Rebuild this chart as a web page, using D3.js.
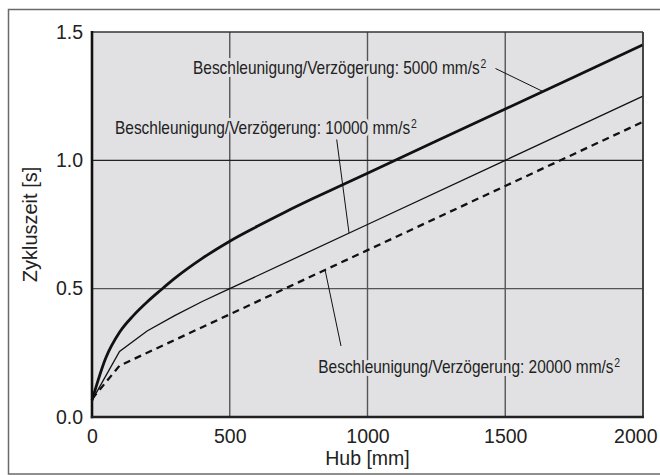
<!DOCTYPE html>
<html><head><meta charset="utf-8">
<script src="https://cdn.jsdelivr.net/npm/d3@7"></script>
<style>
html,body{margin:0;padding:0;background:#fff;}
svg{display:block;font-family:"Liberation Sans",Arial,Helvetica,sans-serif;}
</style></head>
<body><svg id="c" width="660" height="475"></svg>
<script>
// ---- data ----
const xTicks = [0, 500, 1000, 1500, 2000];
const yTicks = [0.0, 0.5, 1.0, 1.5];
const xTitle = "Hub [mm]";
const yTitle = "Zykluszeit [s]";

const hub5000 = [0, 50, 100, 150, 200, 250, 300, 400, 500, 600, 700, 800, 900, 1000, 1500, 2000];
const zeit5000 = [0.065, 0.23, 0.33, 0.395, 0.448, 0.495, 0.54, 0.618, 0.685, 0.743, 0.798, 0.85, 0.90, 0.95, 1.20, 1.45];

const hub10000 = [0, 100, 200, 300, 400, 500, 1000, 1500, 2000];
const zeit10000 = [0.065, 0.255, 0.335, 0.395, 0.45, 0.50, 0.75, 1.00, 1.25];

const hub20000 = [0, 100, 500, 1000, 1500, 2000];
const zeit20000 = [0.07, 0.20, 0.40, 0.65, 0.90, 1.15];

const labelPrefix = "Beschleunigung/Verzögerung: ";
const labelValues = ["5000", "10000", "20000"];
const labelUnit = " mm/s";
const labelSup = "2";

// ---- layout ----
const svg = d3.select("#c");
const L = 92, R = 643, T = 32, B = 417;
const x = d3.scaleLinear().domain([0, 2000]).range([L, R]);
const y = d3.scaleLinear().domain([0, 1.5]).range([B, T]);
const bg = "#e1e1e3";

// outer frame
svg.append("rect").attr("x", 8.5).attr("y", 9.5).attr("width", 700).attr("height", 464.5)
  .attr("fill", "none").attr("stroke", "#6a6a6a").attr("stroke-width", 1.5);

// plot background
svg.append("rect").attr("x", L).attr("y", T).attr("width", R - L).attr("height", B - T).attr("fill", bg);

// grid
const g = svg.append("g");
g.selectAll(".vg").data(xTicks.filter(d => d > 0 && d < 2000)).join("line")
  .attr("x1", d => x(d)).attr("x2", d => x(d)).attr("y1", T).attr("y2", B)
  .attr("stroke", "#555").attr("stroke-width", 1.4);
g.selectAll(".hg").data(yTicks.filter(d => d > 0 && d < 1.5)).join("line")
  .attr("x1", L).attr("x2", R).attr("y1", d => y(d)).attr("y2", d => y(d))
  .attr("stroke", d => d === 1.0 ? "#222" : "#555").attr("stroke-width", 1.3);

// curves
const mk = (xs, ys) => xs.map((v, i) => [v, ys[i]]);
const lineLin = d3.line().x(d => x(d[0])).y(d => y(d[1]));
const lineSmooth = d3.line().x(d => x(d[0])).y(d => y(d[1])).curve(d3.curveMonotoneX);

svg.append("path").attr("d", lineLin(mk(hub20000, zeit20000)))
  .attr("fill", "none").attr("stroke", "#111").attr("stroke-width", 2.3).attr("stroke-dasharray", "7,5");
svg.append("path").attr("d", lineLin(mk(hub10000, zeit10000)))
  .attr("fill", "none").attr("stroke", "#111").attr("stroke-width", 1.3);
svg.append("path").attr("d", lineSmooth(mk(hub5000, zeit5000)))
  .attr("fill", "none").attr("stroke", "#111").attr("stroke-width", 2.8);

// plot frame: top/right thin, left/bottom thick
svg.append("line").attr("x1", L).attr("x2", R).attr("y1", T).attr("y2", T).attr("stroke", "#333").attr("stroke-width", 1.6);
svg.append("line").attr("x1", R).attr("x2", R).attr("y1", T).attr("y2", B).attr("stroke", "#333").attr("stroke-width", 1.8);
svg.append("line").attr("x1", L).attr("x2", L).attr("y1", T - 1).attr("y2", B + 1.2).attr("stroke", "#111").attr("stroke-width", 2.6);
svg.append("line").attr("x1", L - 1.2).attr("x2", R + 1).attr("y1", B).attr("y2", B).attr("stroke", "#222").attr("stroke-width", 2.4);

// axes
const ya = svg.append("g").attr("transform", `translate(${L},0)`)
  .call(d3.axisLeft(y).tickValues(yTicks).tickSize(0).tickPadding(9).tickFormat(d3.format(".1f")));
const xa = svg.append("g").attr("transform", `translate(0,${B})`)
  .call(d3.axisBottom(x).tickValues(xTicks).tickSize(0).tickPadding(11.7).tickFormat(d3.format("d")));
[ya, xa].forEach(a => {
  a.select(".domain").remove();
  a.selectAll("text").attr("font-size", 19.5).attr("fill", "#222")
    .attr("font-family", '"Liberation Sans",Arial,sans-serif');
});
// keep the last x label inside the picture
xa.selectAll(".tick text").filter(d => d === 2000).attr("text-anchor", "end").attr("dx", 14);

// axis titles
svg.append("text").attr("x", (L + R) / 2).attr("y", 464.5).attr("text-anchor", "middle")
  .attr("font-size", 19.5).attr("fill", "#222").text(xTitle);
svg.append("text").attr("transform", `translate(37,${(T + B) / 2}) rotate(-90)`).attr("text-anchor", "middle")
  .attr("font-size", 20).attr("fill", "#222").text(yTitle);

// annotation leaders
const leaders = [
  [[495.5, 68.5], [x(1637), y(1.268)]],
  [[336.7, 139.5], [x(933), y(0.7165)]],
  [[x(846), y(0.573)], [341, 346]]
];
svg.selectAll(".ld").data(leaders).join("line")
  .attr("x1", d => d[0][0]).attr("y1", d => d[0][1]).attr("x2", d => d[1][0]).attr("y2", d => d[1][1])
  .attr("stroke", "#111").attr("stroke-width", 1);

// labels
const labelPos = [[193, 73.5], [115, 133.5], [318.3, 372.7]];
labelValues.forEach((v, i) => {
  const t = svg.append("text")
    .attr("transform", `translate(${labelPos[i][0]},${labelPos[i][1]}) scale(0.835,1)`)
    .attr("font-size", 18.5).attr("fill", "#222")
    .attr("stroke", bg).attr("stroke-width", 6).attr("paint-order", "stroke").attr("stroke-linejoin", "round");
  t.append("tspan").text(labelPrefix + v + labelUnit);
  t.append("tspan").attr("font-size", 12.5).attr("dy", -6).attr("dx", 1).text(labelSup);
});
</script></body></html>
